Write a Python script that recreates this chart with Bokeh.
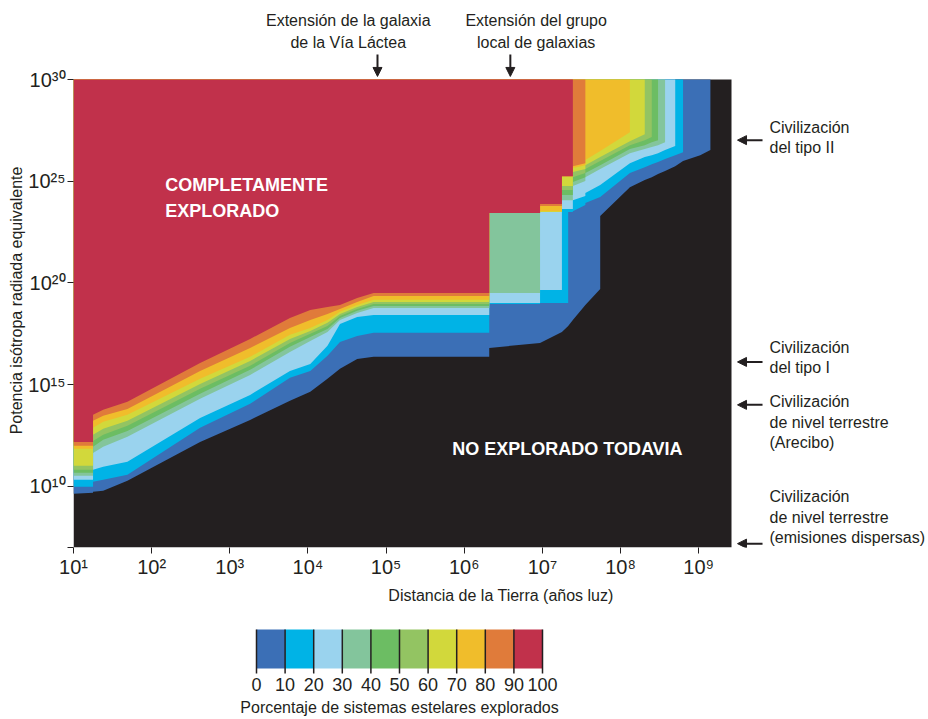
import math
from bokeh.plotting import figure
from bokeh.layouts import column
from bokeh.models import Range1d, FixedTicker, Arrow, NormalHead
from bokeh.core.properties import value
from bokeh.embed import file_html
from bokeh.resources import INLINE

# ---------------- data (log10 values) ----------------
# distance from Earth, log10(light years)
dist_exp = [1.00, 1.25, 1.25, 1.38, 1.69, 2.62, 3.26, 3.77, 4.03, 4.25, 4.41, 4.63, 4.84,
            6.32, 6.32, 6.97, 6.97, 7.25, 7.25, 7.33, 7.33, 7.39, 7.39, 7.55, 7.55,
            7.74, 7.74, 8.12, 8.12, 8.31, 8.31, 8.40, 8.40, 8.48, 8.48, 8.57, 8.57,
            8.70, 8.70, 8.80, 8.80, 9.02, 9.15, 9.15, 9.42]

# log10(EIRP) below which the explored fraction drops under each level (%)
bound_90 = [12.19, 12.19, 13.52, 13.77, 14.16, 16.07, 17.25, 18.28, 18.67, 18.82, 18.92, 19.26, 19.51,
            19.51, 23.44, 23.44, 23.88, 23.88, 25.25, 25.25, 25.25, 25.25, 30, 30, 30,
            30, 30, 30, 30, 30, 30, 30, 30, 30, 30, 30, 30,
            30, 30, 30, 30, 30, 30, 30, 30]
bound_80 = [12.00, 12.00, 13.23, 13.47, 13.81, 15.68, 16.81, 17.79, 18.18, 18.48, 18.72, 19.07, 19.36,
            19.36, 23.44, 23.44, 23.78, 23.78, 25.25, 25.25, 25.25, 25.25, 25.74, 25.89, 30,
            30, 30, 30, 30, 30, 30, 30, 30, 30, 30, 30, 30,
            30, 30, 30, 30, 30, 30, 30, 30]
bound_70 = [11.85, 11.85, 12.88, 13.18, 13.52, 15.29, 16.37, 17.45, 17.79, 18.18, 18.58, 18.92, 19.17,
            19.17, 23.44, 23.44, 23.53, 23.53, 25.25, 25.25, 25.25, 25.25, 25.65, 25.79, 26.04,
            26.48, 26.48, 27.41, 30, 30, 30, 30, 30, 30, 30, 30, 30,
            30, 30, 30, 30, 30, 30, 30, 30]
bound_60 = [11.02, 11.02, 12.54, 12.83, 13.23, 15.04, 16.17, 17.25, 17.64, 18.04, 18.48, 18.82, 19.07,
            19.07, 23.44, 23.44, 23.49, 23.49, 24.76, 24.76, 24.76, 24.76, 25.45, 25.60, 25.79,
            26.19, 26.19, 26.97, 26.97, 27.31, 30, 30, 30, 30, 30, 30, 30,
            30, 30, 30, 30, 30, 30, 30, 30]
bound_50 = [10.82, 10.82, 12.24, 12.54, 12.98, 14.80, 15.93, 17.05, 17.50, 17.89, 18.38, 18.72, 18.97,
            18.97, 23.44, 23.44, 23.49, 23.49, 24.57, 24.57, 24.57, 24.57, 25.20, 25.40, 25.60,
            25.99, 25.99, 26.77, 26.77, 27.02, 27.02, 27.17, 30, 30, 30, 30, 30,
            30, 30, 30, 30, 30, 30, 30, 30]
bound_40 = [10.67, 10.67, 11.95, 12.29, 12.73, 14.55, 15.73, 16.86, 17.35, 17.74, 18.28, 18.63, 18.87,
            18.87, 23.44, 23.44, 23.49, 23.49, 24.32, 24.32, 24.32, 24.32, 24.96, 25.20, 25.40,
            25.79, 25.79, 26.58, 26.58, 26.77, 26.77, 26.92, 26.92, 27.02, 30, 30, 30,
            30, 30, 30, 30, 30, 30, 30, 30]
bound_30 = [10.53, 10.53, 11.65, 11.95, 12.44, 14.31, 15.48, 16.61, 17.15, 17.59, 18.18, 18.53, 18.77,
            18.77, 19.51, 19.51, 23.49, 23.49, 24.07, 24.07, 24.07, 24.07, 24.76, 25.01, 25.20,
            25.60, 25.60, 26.38, 26.38, 26.58, 26.58, 26.68, 26.68, 26.77, 26.77, 26.92, 30,
            30, 30, 30, 30, 30, 30, 30, 30]
bound_20 = [10.33, 10.33, 10.82, 10.97, 11.21, 13.37, 14.50, 15.68, 16.02, 16.91, 17.99, 18.33, 18.43,
            18.43, 19.02, 19.02, 19.66, 19.66, 23.63, 23.63, 23.63, 23.63, 24.07, 24.27, 24.42,
            24.81, 24.81, 25.89, 25.89, 26.19, 26.19, 26.28, 26.28, 26.38, 26.38, 26.53, 26.53,
            26.73, 30, 30, 30, 30, 30, 30, 30]
bound_10 = [9.99, 9.99, 10.23, 10.33, 10.57, 12.88, 14.06, 15.34, 15.68, 16.42, 17.10, 17.40, 17.55,
            17.55, 18.97, 18.97, 19.02, 19.02, 19.02, 19.02, 23.49, 23.49, 23.53, 23.83, 23.93,
            24.22, 24.22, 25.40, 25.40, 25.69, 25.69, 25.84, 25.84, 25.94, 25.94, 26.09, 26.09,
            26.28, 26.28, 26.43, 30, 30, 30, 30, 30]
bound_0 = [9.64, 9.69, 9.74, 9.79, 10.28, 12.19, 13.27, 14.21, 14.65, 15.29, 15.78, 16.27, 16.37,
           16.37, 16.81, 17.05, 17.05, 17.59, 17.59, 17.89, 17.89, 18.18, 18.18, 18.92, 18.92,
           19.71, 23.29, 24.71, 24.71, 25.06, 25.06, 25.20, 25.20, 25.35, 25.35, 25.50, 25.50,
           25.74, 25.74, 25.99, 25.99, 26.28, 26.53, 30, 30]

levels = [0, 10, 20, 30, 40, 50, 60, 70, 80, 90]
level_colors = ["#3b6fb6", "#00b3e6", "#9ad3ee", "#83c59c", "#6cbd63",
                "#93c462", "#d2d83b", "#f0bd2b", "#e07b3a", "#c1314b"]
cbar_ticks = [0, 10, 20, 30, 40, 50, 60, 70, 80, 90, 100]

x_ticks_exp = [1, 2, 3, 4, 5, 6, 7, 8, 9]
y_ticks_exp = [7, 10, 15, 20, 25, 30]
y_labeled_exp = [10, 15, 20, 25, 30]

# civilisation power levels (log10 EIRP) marked on the right
civ_levels = [27.02, 16.12, 14.01, 7.19]
civ_lines = [["Civilización", "del tipo II"],
             ["Civilización", "del tipo I"],
             ["Civilización", "de nivel terrestre", "(Arecibo)"],
             ["Civilización", "de nivel terrestre", "(emisiones dispersas)"]]
civ_text_y = [[27.66, 26.68], [16.81, 15.83], [14.16, 13.13, 12.15], [9.51, 8.47, 7.47]]

# extent of the Milky Way and of the Local Group (log10 ly)
extent_exp = [4.89, 6.59]
extent_lines = [["Extensión de la galaxia", "de la Vía Láctea"],
                ["Extensión del grupo", "local de galaxias"]]
extent_text_x = [4.516, 6.92]

X_MIN_EXP, X_MAX_EXP = 1.0, 9.42
Y_MIN_EXP, Y_MAX_EXP = 7.0, 30.0

# ---------------- layout constants (pixels) ----------------
W = 928
LEFT = 73            # plot frame left edge
PLOT_W = 658         # width of the data domain
PLOT_TOP = 79        # y of 1e30
PLOT_H = 468         # height of the data domain
TOP_H = 53           # height of the top annotation strip
MAIN_BOTTOM = 60
MAIN_H = (PLOT_TOP - TOP_H) + PLOT_H + MAIN_BOTTOM
CB_TOP = TOP_H + MAIN_H
CB_H = 719 - CB_TOP

ppd_x = PLOT_W / (X_MAX_EXP - X_MIN_EXP)
ppd_y = PLOT_H / (Y_MAX_EXP - Y_MIN_EXP)
x_end_exp = X_MIN_EXP + (W - LEFT) / ppd_x
y_end_exp = Y_MAX_EXP + (PLOT_TOP - TOP_H) / ppd_y

DARK = "#231f20"
FONT = "Liberation Sans"
SUP = str.maketrans("0123456789", "⁰¹²³⁴⁵⁶⁷⁸⁹")

x_range = Range1d(10 ** X_MIN_EXP, 10 ** x_end_exp)

# ---------------- top strip ----------------
t = figure(width=W, height=TOP_H, x_axis_type="log", x_range=x_range,
           y_range=Range1d(TOP_H, 0), output_backend="svg", toolbar_location=None,
           min_border_left=LEFT, min_border_right=0, min_border_top=0, min_border_bottom=0,
           x_axis_location=None, y_axis_location=None)
t.outline_line_color = None
t.grid.visible = False
for tx, lines in zip(extent_text_x, extent_lines):
    t.text(x=[10 ** tx] * len(lines), y=[20, 42][:len(lines)], text=lines,
           text_align="center", text_baseline="middle", text_font=value(FONT),
           text_font_size="16px", text_color=DARK)

# ---------------- main figure ----------------
p = figure(width=W, height=MAIN_H, x_axis_type="log", y_axis_type="log",
           x_range=x_range, y_range=Range1d(10 ** Y_MIN_EXP, 10 ** y_end_exp),
           output_backend="svg", toolbar_location=None,
           min_border_left=LEFT, min_border_right=0, min_border_top=0,
           min_border_bottom=MAIN_BOTTOM)
p.background_fill_color = "white"
p.border_fill_color = "white"
p.outline_line_color = None
p.grid.visible = False

# unexplored (black) domain
p.quad(left=[10 ** X_MIN_EXP], right=[10 ** X_MAX_EXP], bottom=[10 ** Y_MIN_EXP],
       top=[10 ** Y_MAX_EXP], fill_color=DARK, line_color=None)

bounds = {0: bound_0, 10: bound_10, 20: bound_20, 30: bound_30, 40: bound_40,
          50: bound_50, 60: bound_60, 70: bound_70, 80: bound_80, 90: bound_90}
xs = [10 ** e for e in dist_exp]
top = [10 ** Y_MAX_EXP] * len(dist_exp)
for lvl, col in zip(levels, level_colors):
    lo = [10 ** v for v in bounds[lvl]]
    p.varea(x=xs, y1=lo, y2=top, fill_color=col)

def tick(e):
    return float(f"1e{e}")

xa = p.xaxis[0]
xa.ticker = FixedTicker(ticks=[tick(e) for e in x_ticks_exp])
xa.major_label_overrides = {tick(e): "10" + str(e).translate(SUP) for e in x_ticks_exp}
ya = p.yaxis[0]
ya.ticker = FixedTicker(ticks=[tick(e) for e in y_ticks_exp])
ya.major_label_overrides = {tick(e): ("10" + str(e).translate(SUP)) if e in y_labeled_exp else ""
                            for e in y_ticks_exp}
for ax in (xa, ya):
    ax.major_tick_out = 6
    ax.major_tick_in = 0
    ax.minor_tick_line_color = None
    ax.major_tick_line_color = DARK
    ax.axis_line_color = None
    ax.major_label_text_font = FONT
    ax.major_label_text_font_size = "20px"
    ax.major_label_text_color = DARK
    ax.axis_label_text_font = FONT
    ax.axis_label_text_font_size = "16px"
    ax.axis_label_text_font_style = "normal"
    ax.axis_label_text_color = DARK
xa.major_label_standoff = 2
ya.major_label_standoff = 2
xa.axis_label = "Distancia de la Tierra (años luz)"
xa.axis_label_standoff = 6
ya.axis_label = "Potencia isótropa radiada equivalente"
ya.axis_label_standoff = 0

# region labels
p.text(x=[10 ** 2.175, 10 ** 2.175, 10 ** 5.846], y=[10 ** 24.81, 10 ** 23.53, 10 ** 11.85],
       text=["COMPLETAMENTE", "EXPLORADO", "NO EXPLORADO TODAVIA"],
       text_align="left", text_baseline="middle", text_font=value(FONT),
       text_font_size="18px", text_font_style="bold", text_color="white")

def arrow(x0, y0, x1, y1):
    p.add_layout(Arrow(end=NormalHead(size=9, fill_color=DARK, line_color=DARK),
                       x_start=10 ** x0, y_start=10 ** y0, x_end=10 ** x1, y_end=10 ** y1,
                       line_width=2, line_color=DARK))

for ex in extent_exp:
    arrow(ex, 31.23, ex, 30.15)

for lvl, lines, tys in zip(civ_levels, civ_lines, civ_text_y):
    arrow(9.817, lvl, 9.497, lvl)
    p.text(x=[10 ** 9.906] * len(lines), y=[10 ** v for v in tys], text=lines,
           text_align="left", text_baseline="middle", text_font=value(FONT),
           text_font_size="16px", text_color=DARK)

# ---------------- colour bar ----------------
px_per_unit = (542 - 256) / 100.0
cb_x0 = 0 - (256 - LEFT) / px_per_unit
cb_x1 = 100 + (W - 542) / px_per_unit
cb = figure(width=W, height=CB_H, x_range=Range1d(cb_x0, cb_x1), y_range=Range1d(719, CB_TOP),
            output_backend="svg", toolbar_location=None,
            min_border_left=LEFT, min_border_right=0, min_border_top=0, min_border_bottom=0,
            x_axis_location=None, y_axis_location=None)
cb.outline_line_color = None
cb.grid.visible = False

cb.quad(left=levels, right=[l + 10 for l in levels], top=629, bottom=668,
        fill_color=level_colors, line_color=None)
cb.segment(x0=cbar_ticks, y0=629, x1=cbar_ticks, y1=673, line_color=DARK, line_width=1.5)
cb.text(x=cbar_ticks, y=684, text=[str(v) for v in cbar_ticks], text_align="center",
        text_baseline="middle", text_font=value(FONT), text_font_size="18px", text_color=DARK)
cb.text(x=[50], y=[707], text=["Porcentaje de sistemas estelares explorados"], text_align="center",
        text_baseline="middle", text_font=value(FONT), text_font_size="16px", text_color=DARK)

layout = column(t, p, cb, spacing=0)
open("out.html", "w").write(file_html(layout, INLINE))
